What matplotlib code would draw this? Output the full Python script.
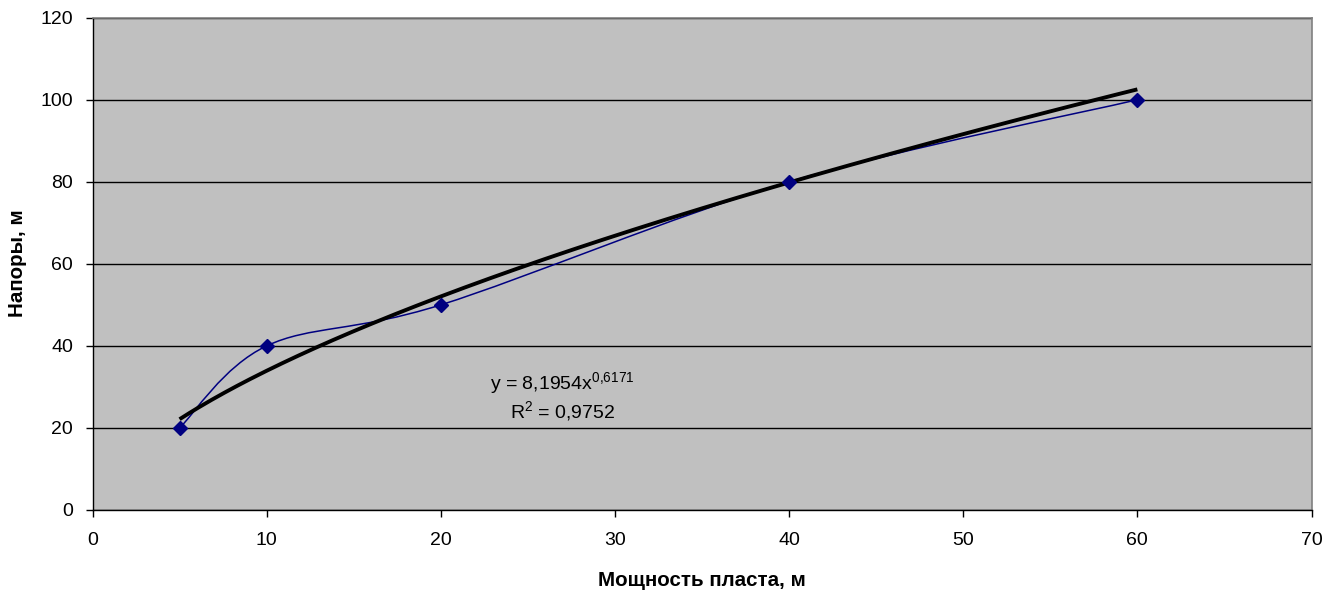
import numpy as np
import matplotlib
matplotlib.use("Agg")
import matplotlib.pyplot as plt
from matplotlib.path import Path
from matplotlib.patches import PathPatch

plt.rcParams['font.family'] = ['Liberation Sans', 'DejaVu Sans']
plt.rcParams['mathtext.fontset'] = 'custom'
plt.rcParams['mathtext.rm'] = 'Liberation Sans'
plt.rcParams['mathtext.it'] = 'Liberation Sans'
plt.rcParams['mathtext.bf'] = 'Liberation Sans:bold'

# Data
thickness = [5, 10, 20, 40, 60]          # Мощность пласта, м
heads = [20, 40, 50, 80, 100]            # Напоры, м
trend_a = 8.1954
trend_b = 0.6171
trend_r2 = 0.9752
x_ticks = [0, 10, 20, 30, 40, 50, 60, 70]
y_ticks = [0, 20, 40, 60, 80, 100, 120]

W, H = 1339, 594
fig = plt.figure(figsize=(W / 100, H / 100), dpi=100)
left, right, top, bottom = 92.5, 1311.5, 17.7, 510.0
ax = fig.add_axes([left / W, 1 - bottom / H, (right - left) / W, (bottom - top) / H])
ax.set_facecolor('#C0C0C0')
ax.set_xlim(0, 70)
ax.set_ylim(0, 120)
ax.set_xticks(x_ticks)
ax.set_yticks(y_ticks)
ax.tick_params(axis='both', direction='out', length=5, width=1, labelsize=14, color='black')
ax.tick_params(axis='x', pad=11)
ax.tick_params(axis='y', pad=9)
for s in ['left', 'bottom']:
    ax.spines[s].set_color('black')
    ax.spines[s].set_linewidth(1)
for s in ['top', 'right']:
    ax.spines[s].set_color('#808080')
    ax.spines[s].set_linewidth(1.2)
ax.yaxis.grid(True, color='black', linewidth=1)
ax.set_axisbelow(True)

# Excel-like smoothed line (Bezier through points)
xs = np.array(thickness, dtype=float)
ys = np.array(heads, dtype=float)
n = len(xs)
verts = [(xs[0], ys[0])]
codes = [Path.MOVETO]
for i in range(n - 1):
    p0 = np.array([xs[max(i - 1, 0)], ys[max(i - 1, 0)]])
    p1 = np.array([xs[i], ys[i]])
    p2 = np.array([xs[i + 1], ys[i + 1]])
    p3 = np.array([xs[min(i + 2, n - 1)], ys[min(i + 2, n - 1)]])
    c1 = p1 + (p2 - p0) / 6.0
    c2 = p2 - (p3 - p1) / 6.0
    verts += [tuple(c1), tuple(c2), tuple(p2)]
    codes += [Path.CURVE4, Path.CURVE4, Path.CURVE4]
ax.add_patch(PathPatch(Path(verts, codes), facecolor='none', edgecolor='#000080', linewidth=1.1, zorder=3))

# Power trendline
xt = np.linspace(min(thickness), max(thickness), 300)
ax.plot(xt, trend_a * xt ** trend_b, color='black', linewidth=2.8, zorder=4, solid_capstyle='butt')

ax.plot(thickness, heads, linestyle='none', marker='D', markersize=6.8, color='#000080', zorder=5)

ax.text(27.0, 31.0, r'y = 8,1954x$^{\mathregular{0{,}6171}}$', ha='center', va='center', fontsize=14)
ax.text(27.0, 24.2, r'R$^{\mathregular{2}}$ = 0,9752', ha='center', va='center', fontsize=14)

fig.text(18 / W, 1 - 263 / H, 'Напоры, м', rotation=90, ha='center', va='center', fontsize=14.8, fontweight='bold')
fig.text(702 / W, 1 - 580 / H, 'Мощность пласта, м', ha='center', va='center', fontsize=14.8, fontweight='bold')

fig.savefig('out.png', dpi=100)
